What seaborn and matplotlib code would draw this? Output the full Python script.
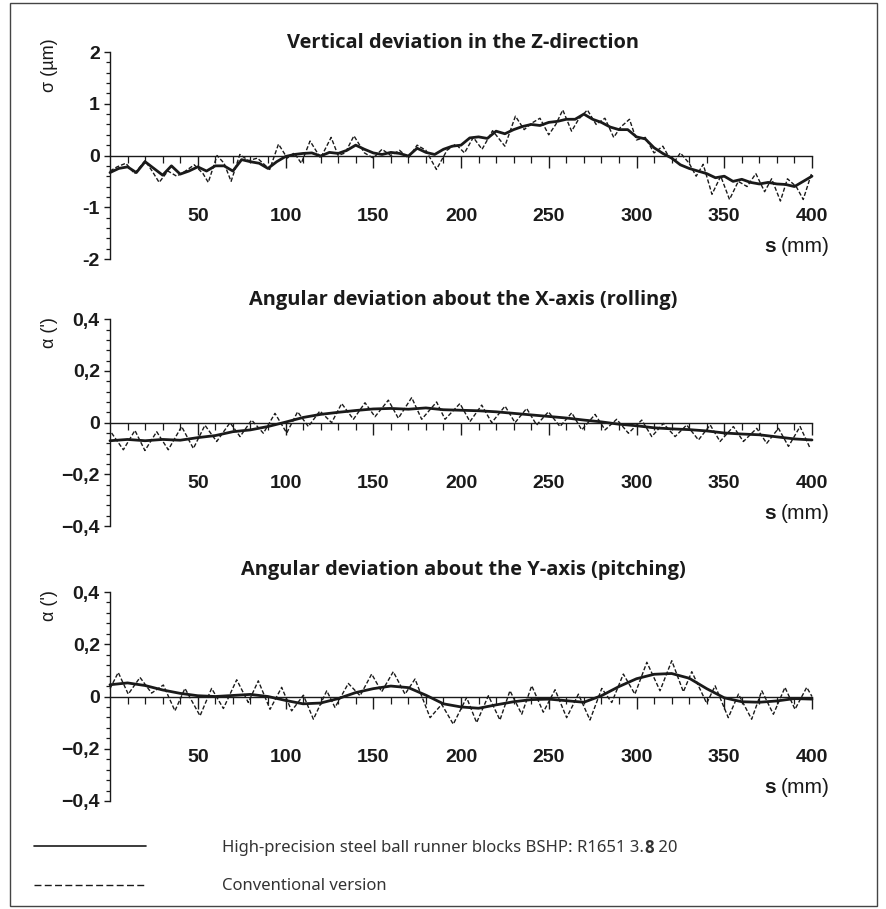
import matplotlib
matplotlib.use("Agg")
import matplotlib.pyplot as plt
from matplotlib.lines import Line2D
from matplotlib.patches import Rectangle
from matplotlib.text import Annotation
from matplotlib.ticker import MultipleLocator, FixedLocator
import numpy as np
import pandas as pd
import seaborn as sns

# ---------------- data ----------------
x_ticks = [50, 100, 150, 200, 250, 300, 350, 400]

# Panel 1: vertical deviation (um)
p1_solid_x = list(range(0, 405, 5))
p1_solid_y = [-0.33, -0.25, -0.22, -0.33, -0.12, -0.25, -0.38, -0.2, -0.36, -0.3,
              -0.22, -0.3, -0.2, -0.2, -0.3, -0.08, -0.12, -0.15, -0.25, -0.12,
              -0.02, 0.02, 0.04, 0.05, -0.01, 0.06, 0.04, 0.1, 0.2, 0.12,
              0.05, 0.02, 0.06, 0.04, -0.01, 0.14, 0.06, 0.02, 0.12, 0.18,
              0.2, 0.34, 0.36, 0.33, 0.47, 0.42, 0.5, 0.56, 0.6, 0.58,
              0.64, 0.66, 0.7, 0.7, 0.8, 0.7, 0.64, 0.55, 0.5, 0.5,
              0.36, 0.32, 0.15, 0.04, -0.05, -0.18, -0.25, -0.3, -0.35, -0.43,
              -0.4, -0.5, -0.46, -0.52, -0.55, -0.52, -0.55, -0.56, -0.6, -0.5, -0.4]
p1_dash_x = [0, 4, 9, 14, 20, 24, 28, 33, 38, 43, 48, 53, 56, 61, 65, 69, 74, 79, 84,
             91, 96, 101, 105, 109, 114, 120, 126, 130, 134, 139, 145, 150, 155, 160,
             165, 170, 175, 180, 186, 192, 197, 202, 207, 212, 218, 225, 231, 236, 240,
             245, 250, 254, 258, 263, 267, 272, 277, 282, 287, 291, 296, 300, 305, 310,
             315, 318, 322, 325, 330, 334, 338, 343, 348, 353, 358, 363, 368, 373, 377,
             382, 386, 391, 395, 400]
p1_dash_y = [-0.3, -0.22, -0.15, -0.35, -0.1, -0.3, -0.52, -0.3, -0.4, -0.3, -0.18,
             -0.35, -0.52, 0.0, -0.15, -0.5, 0.02, -0.1, -0.05, -0.27, 0.22, -0.05,
             0.05, -0.15, 0.28, -0.05, 0.35, 0.0, 0.05, 0.38, 0.05, -0.05, 0.12, 0.0,
             0.1, -0.05, 0.2, 0.1, -0.27, 0.1, 0.22, 0.05, 0.35, 0.12, 0.48, 0.18,
             0.76, 0.5, 0.62, 0.72, 0.4, 0.6, 0.88, 0.47, 0.7, 0.88, 0.6, 0.72, 0.35,
             0.55, 0.7, 0.3, 0.35, 0.05, 0.18, 0.0, -0.1, 0.05, -0.15, -0.4, -0.17,
             -0.75, -0.4, -0.85, -0.5, -0.6, -0.35, -0.7, -0.45, -0.88, -0.45, -0.6,
             -0.85, -0.32]

# Panel 2: rolling (')
p2_solid_x = list(range(0, 410, 10))
p2_solid_y = [-0.07, -0.065, -0.07, -0.065, -0.068, -0.058, -0.05, -0.035, -0.028,
              -0.015, 0.002, 0.02, 0.032, 0.04, 0.047, 0.053, 0.055, 0.052, 0.057,
              0.05, 0.048, 0.046, 0.042, 0.036, 0.03, 0.024, 0.018, 0.01, 0.003,
              -0.006, -0.012, -0.02, -0.024, -0.027, -0.032, -0.04, -0.044, -0.047,
              -0.055, -0.063, -0.067]
p2_dash_x = [0.9, 7.6, 14.2, 19.9, 26.6, 33.2, 40.8, 47.5, 54.1, 60.8, 68.4, 74.1,
             80.7, 87.4, 94.0, 100.7, 106.9, 113.0, 119.6, 126.3, 132.0, 138.7, 145.3,
             151.0, 158.6, 164.3, 171.9, 177.6, 186.1, 190.9, 199.4, 205.1, 211.8,
             217.5, 225.1, 230.8, 237.4, 243.1, 249.8, 256.4, 263.1, 268.8, 276.4,
             282.1, 288.7, 295.4, 303.0, 308.7, 315.3, 322.0, 328.6, 335.3, 342.0,
             347.6, 355.2, 360.9, 368.5, 374.2, 380.9, 386.6, 393.2, 399.0]
p2_dash_y = [-0.04, -0.105, -0.03, -0.108, -0.035, -0.105, -0.015, -0.1, -0.01,
             -0.073, 0.0, -0.054, 0.01, -0.041, 0.036, -0.04, 0.042, -0.015, 0.045,
             0.0, 0.074, 0.013, 0.077, 0.023, 0.087, 0.017, 0.097, 0.013, 0.08, 0.013,
             0.074, 0.004, 0.068, 0.0, 0.064, 0.0, 0.055, -0.009, 0.042, -0.015,
             0.038, -0.028, 0.032, -0.028, 0.013, -0.041, 0.01, -0.054, -0.003,
             -0.054, -0.009, -0.067, -0.009, -0.073, -0.015, -0.073, -0.022, -0.08,
             -0.022, -0.092, -0.015, -0.1]

# Panel 3: pitching (')
p3_solid_x = list(range(0, 410, 10))
p3_solid_y = [0.045, 0.052, 0.042, 0.025, 0.012, 0.003, 0.0, 0.004, 0.008, 0.0,
              -0.015, -0.028, -0.025, -0.008, 0.015, 0.03, 0.04, 0.034, 0.005,
              -0.028, -0.04, -0.045, -0.032, -0.02, -0.012, -0.01, -0.016, -0.022,
              0.003, 0.038, 0.068, 0.085, 0.088, 0.07, 0.03, -0.005, -0.02, -0.022,
              -0.017, -0.008, -0.01]
p3_dash_x = [0, 4.7, 10.4, 17.1, 23.7, 30.4, 37.0, 42.7, 51.3, 57.9, 64.6, 72.2,
             78.8, 84.5, 91.2, 97.8, 103.5, 110.2, 115.9, 123.5, 128.2, 135.8, 142.5,
             149.1, 154.8, 161.4, 168.1, 173.8, 182.4, 189.0, 195.6, 203.2, 208.9,
             215.6, 222.2, 227.9, 234.6, 240.3, 246.9, 253.6, 260.2, 266.9, 273.5,
             280.2, 285.9, 292.5, 299.1, 305.9, 313.4, 320.1, 326.7, 331.5, 340.0,
             344.8, 352.3, 358.1, 365.6, 371.4, 378.0, 384.6, 390.3, 397.0, 400.0]
p3_dash_y = [0.03, 0.092, 0.009, 0.073, 0.013, 0.044, -0.055, 0.031, -0.074, 0.031,
             -0.046, 0.064, -0.023, 0.06, -0.049, 0.035, -0.055, 0.005, -0.087,
             0.022, -0.042, 0.05, 0.003, 0.086, 0.018, 0.095, 0.009, 0.067, -0.081,
             -0.03, -0.106, -0.004, -0.1, 0.003, -0.09, 0.022, -0.068, 0.041, -0.06,
             0.026, -0.081, 0.009, -0.09, 0.031, -0.023, 0.086, 0.009, 0.131, 0.022,
             0.137, 0.018, 0.095, -0.026, 0.041, -0.081, 0.009, -0.087, 0.022,
             -0.068, 0.035, -0.049, 0.035, 0.0]

titles = ["Vertical deviation in the Z-direction",
          "Angular deviation about the X-axis (rolling)",
          "Angular deviation about the Y-axis (pitching)"]
ylabels = ["σ (µm)", "α (')", "α (')"]
y1_ticks = [-2, -1, 0, 1, 2]
y1_labels = ["-2", "-1", "0", "1", "2"]
y23_ticks = [-0.4, -0.2, 0, 0.2, 0.4]
y23_labels = ["\u22120,4", "\u22120,2", "0", "0,2", "0,4"]
legend_labels = ["High-precision steel ball runner blocks BSHP: R1651 3.", "8", " 20",
                 "Conventional version"]

# ---------------- figure ----------------
sns.set_theme(style="white")
plt.rcParams["font.family"] = ["Liberation Sans", "DejaVu Sans"]

W, H = 886, 909
fig = plt.figure(figsize=(W / 100, H / 100), dpi=100)
fig.patch.set_facecolor("white")

def fx(px):
    return px / W

def fy(py):
    return 1 - py / H

INK = "#1a1a1a"
TFAM = ["Open Sans", "Lato", "DejaVu Sans"]
left, right = 110, 812
panels = [
    dict(top=52, bot=259, sx=p1_solid_x, sy=p1_solid_y, dx=p1_dash_x, dy=p1_dash_y,
         ylim=(-2, 2), yt=y1_ticks, yl=y1_labels, minor=0.2, title_y=43),
    dict(top=319.3, bot=526, sx=p2_solid_x, sy=p2_solid_y, dx=p2_dash_x, dy=p2_dash_y,
         ylim=(-0.4, 0.4), yt=y23_ticks, yl=y23_labels, minor=0.04, title_y=300),
    dict(top=592, bot=801, sx=p3_solid_x, sy=p3_solid_y, dx=p3_dash_x, dy=p3_dash_y,
         ylim=(-0.4, 0.4), yt=y23_ticks, yl=y23_labels, minor=0.04, title_y=570),
]

for i, p in enumerate(panels):
    ax = fig.add_axes([fx(left), fy(p["bot"]), fx(right) - fx(left),
                       (p["bot"] - p["top"]) / H])
    ax.set_facecolor("none")
    df_s = pd.DataFrame({"s": p["sx"], "v": p["sy"]})
    df_d = pd.DataFrame({"s": p["dx"], "v": p["dy"]})
    sns.lineplot(data=df_d, x="s", y="v", ax=ax, color=INK, linewidth=1.0,
                 linestyle=(0, (3, 1.5)), clip_on=False)
    sns.lineplot(data=df_s, x="s", y="v", ax=ax, color=INK, linewidth=2.0,
                 clip_on=False)
    ax.set_xlim(0, 400)
    ax.set_ylim(*p["ylim"])
    ax.set_xlabel("")
    ax.set_ylabel("")
    for sp in ["top", "right"]:
        ax.spines[sp].set_visible(False)
    ax.spines["bottom"].set_position(("data", 0))
    for sp in ["left", "bottom"]:
        ax.spines[sp].set_color(INK)
        ax.spines[sp].set_linewidth(1.0)
    ax.xaxis.set_major_locator(FixedLocator(x_ticks))
    ax.set_xticklabels([str(t) for t in x_ticks])
    ax.xaxis.set_minor_locator(FixedLocator([t for t in range(10, 400, 10) if t % 50]))
    ax.set_yticks(p["yt"])
    ax.set_yticklabels(p["yl"])
    ax.yaxis.set_minor_locator(MultipleLocator(p["minor"]))
    ax.tick_params(which="both", bottom=True, left=True, top=False, right=False)
    ax.tick_params(axis="x", which="major", direction="out", length=8.5, width=1.0,
                   color=INK, pad=29, labelsize=14, labelcolor=INK)
    ax.tick_params(axis="x", which="minor", direction="out", length=5, width=0.9,
                   color=INK)
    ax.tick_params(axis="y", which="major", direction="out", length=4.3, width=1.0,
                   color=INK, pad=3, labelsize=14, labelcolor=INK)
    ax.tick_params(axis="y", which="minor", direction="out", length=3, width=0.9,
                   color=INK)
    for lab in ax.get_xticklabels() + ax.get_yticklabels():
        lab.set_fontweight("bold")
    # y label near top
    ax.text(-0.0855, 0.937, ylabels[i], transform=ax.transAxes, rotation=90,
            ha="center", va="center", fontsize=13, color=INK)
    # title
    fig.text(fx(463), fy(p["title_y"]), titles[i], ha="center", va="center",
             fontsize=14.4, fontweight="bold", color=INK, family=TFAM)
    # s (mm)
    zero_py = (p["top"] + p["bot"]) / 2
    t_mm = fig.text(fx(830), fy(zero_py + 91), "(mm)", ha="right", va="center",
                    fontsize=15, color=INK)
    ann = Annotation("s", xy=(0, 0.5), xycoords=t_mm, xytext=(-4, 0),
                     textcoords="offset points", ha="right", va="center",
                     fontsize=15, fontweight="bold", color=INK)
    fig.add_artist(ann)

# legend
fig.add_artist(Line2D([fx(34), fx(146)], [fy(846), fy(846)], color=INK, lw=1.2,
                      transform=fig.transFigure))
fig.add_artist(Line2D([fx(34), fx(146)], [fy(885), fy(885)], color=INK, lw=1.0,
                      linestyle=(0, (5, 2.4)), transform=fig.transFigure))
LFAM = ["Noto Sans", "DejaVu Sans"]
LCOL = "#333333"
t1 = fig.text(fx(222), fy(848), legend_labels[0], ha="left", va="center",
              fontsize=12, color=LCOL, family=LFAM)
a2 = Annotation(legend_labels[1], xy=(1, 0.5), xycoords=t1, ha="left", va="center",
                fontsize=12, color=LCOL, fontweight="bold", family=TFAM)
fig.add_artist(a2)
a3 = Annotation(legend_labels[2], xy=(1, 0.5), xycoords=a2, ha="left", va="center",
                fontsize=12, color=LCOL, family=LFAM)
fig.add_artist(a3)
fig.text(fx(222), fy(886), legend_labels[3], ha="left", va="center",
         fontsize=12, color=LCOL, family=LFAM)

# frame
fig.add_artist(Rectangle((fx(10), fy(906)), fx(877) - fx(10), fy(3) - fy(906),
                         transform=fig.transFigure, fill=False, edgecolor="#444444",
                         linewidth=1.0))

fig.savefig("out.png", dpi=100, facecolor="white")
